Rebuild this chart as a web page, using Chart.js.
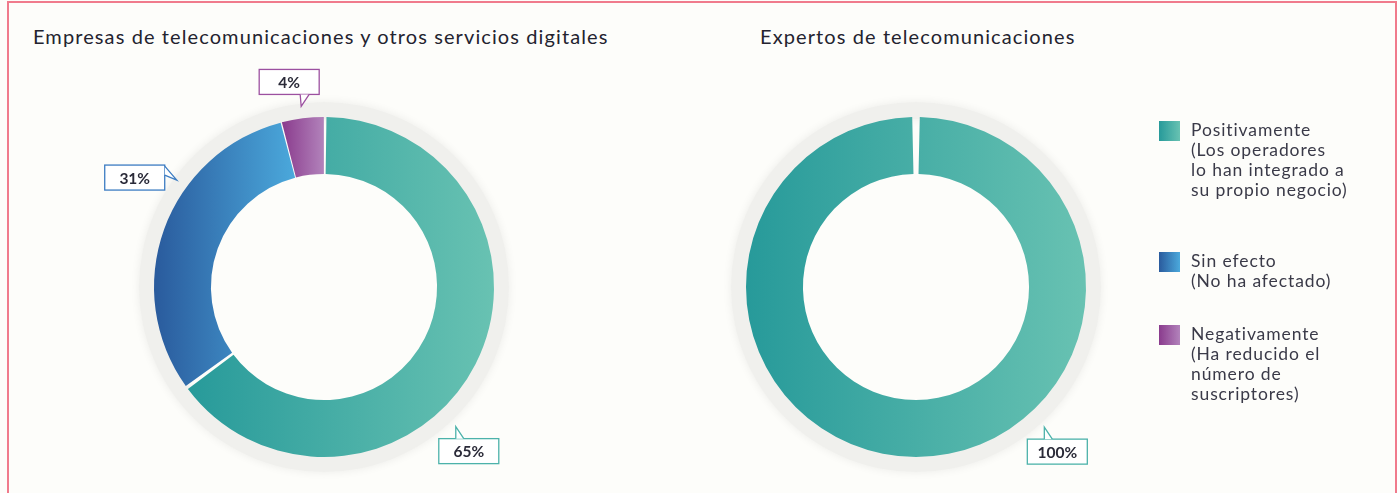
<!DOCTYPE html>
<html>
<head>
<meta charset="utf-8">
<script src="https://cdn.jsdelivr.net/npm/chart.js@4"></script>
<style>
  html, body { margin: 0; padding: 0; background: #fdfdfa; }
  body { width: 1397px; height: 493px; position: relative; overflow: hidden; font-family: "Lato", sans-serif; }
  .frame { position: absolute; left: 7px; top: 1px; width: 1386px; height: 520px; border: 2px solid #f07b8c; border-bottom: none; }
  .title { position: absolute; top: 24px; font-size: 20px; letter-spacing: 1.1px; color: #23232f; white-space: nowrap; }
  .wrap { position: absolute; width: 500px; height: 460px; top: 57px; }
  #legend { position: absolute; left: 1159px; top: 120px; }
  .item { position: relative; padding-left: 32px; font-size: 17.5px; letter-spacing: 0.9px; line-height: 20px; color: #3a3a48; white-space: nowrap; }
  .item i { position: absolute; left: 0; top: 1px; width: 21px; height: 20px; }
</style>
</head>
<body>
<div class="frame"></div>
<div class="title" style="left:33px">Empresas de telecomunicaciones y otros servicios digitales</div>
<div class="title" style="left:760px">Expertos de telecomunicaciones</div>
<div class="wrap" style="left:74px"><canvas id="chartA" width="500" height="460"></canvas></div>
<div class="wrap" style="left:666px"><canvas id="chartB" width="500" height="460"></canvas></div>
<div id="legend"></div>
<script>
// data
const categories = ['Positivamente', 'Sin efecto', 'Negativamente'];
const legendLines = [
  ['Positivamente', '(Los operadores', 'lo han integrado a', 'su propio negocio)'],
  ['Sin efecto', '(No ha afectado)'],
  ['Negativamente', '(Ha reducido el', 'número de', 'suscriptores)']
];
const empresas = [65, 31, 4];
const expertos = [100, 0, 0];

// styles
const gradStops = [['#279a9a', '#68c2b2'], ['#2a5b9d', '#4ba9dc'], ['#8a3b8d', '#b283bb']];
const borderCols = ['#4cb2aa', '#3c7cc2', '#9c50a0'];
const legendGap = [0, 51, 33];

// callout placement per chart: side, position along arc (0..1), gap beyond ring
const calloutsA = [{side: 'down', at: 0.584, gap: 23}, {side: 'left', at: 0.645, gap: 13}, {side: 'up', at: 0.5, gap: 13}];
const calloutsB = [{side: 'down', at: 0.382, gap: 21}];

function arcExtent(arc) {
  let min = Infinity, max = -Infinity;
  for (let k = 0; k <= 60; k++) {
    const a = arc.startAngle + (arc.endAngle - arc.startAngle) * k / 60;
    for (const r of [arc.innerRadius, arc.outerRadius]) {
      const x = arc.x + r * Math.cos(a);
      min = Math.min(min, x); max = Math.max(max, x);
    }
  }
  return [min, max];
}

function fillFor(c) {
  const stops = gradStops[c.dataIndex];
  const arc = c.chart.getDatasetMeta(0).data[c.dataIndex];
  if (!arc || !arc.outerRadius) return stops[0];
  const [x0, x1] = arcExtent(arc);
  const g = c.chart.ctx.createLinearGradient(x0, 0, x1, 0);
  g.addColorStop(0, stops[0]);
  g.addColorStop(1, stops[1]);
  return g;
}

const haloPlugin = {
  id: 'halo',
  beforeDatasetsDraw(chart) {
    const arc = chart.getDatasetMeta(0).data.find(a => a.outerRadius);
    if (!arc) return;
    const ctx = chart.ctx;
    ctx.save();
    ctx.beginPath();
    ctx.arc(arc.x, arc.y, arc.outerRadius + 16, 0, Math.PI * 2);
    ctx.arc(arc.x, arc.y, arc.outerRadius - 1, 0, Math.PI * 2, true);
    ctx.shadowColor = 'rgba(0,0,0,0.07)';
    ctx.shadowBlur = 10;
    ctx.fillStyle = '#f0f0ed';
    ctx.fill();
    ctx.restore();
  }
};

const calloutPlugin = {
  id: 'callouts',
  afterDatasetsDraw(chart, args, opts) {
    const ctx = chart.ctx;
    const meta = chart.getDatasetMeta(0);
    const values = chart.data.datasets[0].data;
    opts.list.forEach((c, i) => {
      if (!values[i]) return;
      const arc = meta.data[i];
      const a = arc.startAngle + (arc.endAngle - arc.startAngle) * c.at;
      const r = arc.outerRadius + c.gap;
      const tx = arc.x + r * Math.cos(a), ty = arc.y + r * Math.sin(a);
      const w = 60, h = 25;
      let bx, by, tail;
      if (c.side === 'up') {
        bx = tx - 42; by = ty - 12 - h;
        tail = [[tx - 1, by + h], [tx, ty], [tx + 8, by + h]];
      } else if (c.side === 'left') {
        bx = tx - 12 - w; by = ty - 15;
        tail = [[bx + w, by + 1], [tx, ty], [bx + w, by + 10]];
      } else {
        bx = tx - 17; by = ty + 12;
        tail = [[tx, by], [tx, ty], [tx + 8, by]];
      }
      ctx.save();
      ctx.fillStyle = '#ffffff';
      ctx.strokeStyle = borderCols[i];
      ctx.lineWidth = 1.3;
      ctx.fillRect(bx, by, w, h);
      ctx.strokeRect(bx, by, w, h);
      // cover box edge under the tail mouth, then draw the tail sides
      ctx.beginPath();
      ctx.moveTo(tail[0][0], tail[0][1]);
      ctx.lineTo(tail[1][0], tail[1][1]);
      ctx.lineTo(tail[2][0], tail[2][1]);
      ctx.closePath();
      ctx.fill();
      ctx.beginPath();
      ctx.moveTo(tail[0][0], tail[0][1]);
      ctx.lineTo(tail[1][0], tail[1][1]);
      ctx.lineTo(tail[2][0], tail[2][1]);
      ctx.stroke();
      ctx.fillStyle = '#2a2a38';
      ctx.font = 'bold 15.5px Lato';
      ctx.textAlign = 'center';
      ctx.textBaseline = 'middle';
      ctx.fillText(values[i] + '%', bx + w / 2, by + h / 2 + 1);
      ctx.restore();
    });
  }
};

function makeDonut(id, values, callouts) {
  const chart = new Chart(document.getElementById(id), {
    type: 'doughnut',
    data: {
      labels: categories,
      datasets: [{
        data: values,
        backgroundColor: fillFor,
        borderWidth: 0,
        spacing: 2,
        hoverOffset: 0
      }]
    },
    options: {
      responsive: false,
      animation: false,
      events: [],
      radius: 169,
      cutout: '66.3%',
      layout: { padding: 0 },
      plugins: {
        legend: { display: false },
        tooltip: { enabled: false },
        callouts: { list: callouts }
      }
    },
    plugins: [haloPlugin, calloutPlugin]
  });
  chart.update();
  return chart;
}

makeDonut('chartA', empresas, calloutsA);
makeDonut('chartB', expertos, calloutsB);

const legend = document.getElementById('legend');
legendLines.forEach((lines, i) => {
  const d = document.createElement('div');
  d.className = 'item';
  d.style.marginTop = legendGap[i] + 'px';
  d.innerHTML = '<i style="background:linear-gradient(90deg,' + gradStops[i][0] + ',' + gradStops[i][1] + ')"></i>' + lines.join('<br>');
  legend.appendChild(d);
});
</script>
</body>
</html>
